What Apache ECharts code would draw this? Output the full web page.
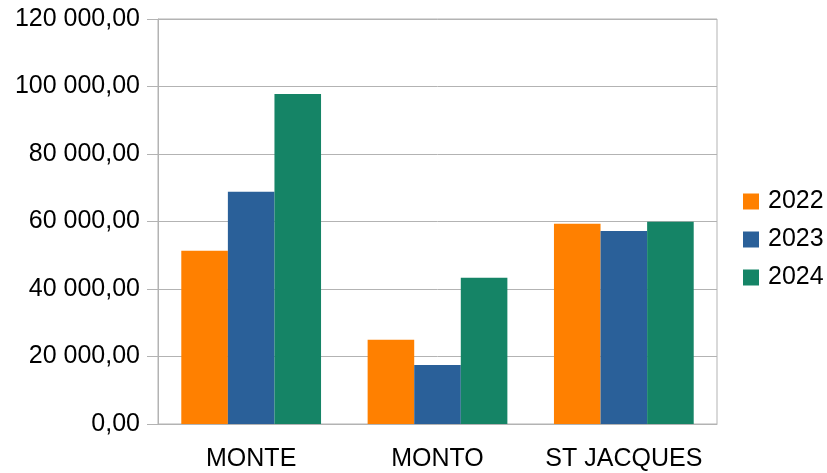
<!DOCTYPE html>
<html>
<head>
<meta charset="utf-8">
<script src="https://cdn.jsdelivr.net/npm/echarts@6/dist/echarts.min.js"></script>
<style>html,body{margin:0;padding:0;background:#fff;}#c{width:827px;height:473px;}</style>
</head>
<body>
<div id="c"></div>
<script>
const categories = ["MONTE", "MONTO", "ST JACQUES"];
const seriesNames = ["2022", "2023", "2024"];
const values2022 = [51300, 25000, 59300];
const values2023 = [68800, 17500, 57200];
const values2024 = [97800, 43300, 59900];
const colors = ["#ff8000", "#2a6099", "#158466"];

function fmt(v) {
  const s = Math.round(v).toString().replace(/\B(?=(\d{3})+(?!\d))/g, " ");
  return s + ",00";
}

const chart = echarts.init(document.getElementById("c"), null, {renderer: "canvas"});
const font = "Liberation Sans";
chart.setOption({
  animation: false,
  backgroundColor: "#ffffff",
  grid: {left: 158, right: 110, top: 19, bottom: 49, show: true, borderColor: "#b3b3b3", borderWidth: 1},
  legend: {
    orient: "vertical", left: 738, top: 184, padding: 5,
    itemWidth: 16, itemHeight: 16, itemGap: 13,
    icon: "rect",
    textStyle: {fontFamily: font, fontSize: 25, color: "#000", padding: [0, 0, 0, 4]},
    data: seriesNames
  },
  xAxis: {
    type: "category", data: categories,
    axisLine: {lineStyle: {color: "#b3b3b3"}},
    axisTick: {length: 11, lineStyle: {color: "#b3b3b3"}},
    axisLabel: {fontFamily: font, fontSize: 25, color: "#000", margin: 23, interval: 0}
  },
  yAxis: {
    type: "value", min: 0, max: 120000, interval: 20000,
    axisLine: {show: true, lineStyle: {color: "#b3b3b3"}},
    axisTick: {show: true, length: 11, lineStyle: {color: "#b3b3b3"}},
    splitLine: {lineStyle: {color: "#b3b3b3"}},
    axisLabel: {fontFamily: font, fontSize: 25, color: "#000", margin: 18, formatter: fmt}
  },
  series: [
    {name: seriesNames[0], type: "bar", data: values2022, itemStyle: {color: colors[0]}, barGap: "0%", barCategoryGap: "25%"},
    {name: seriesNames[1], type: "bar", data: values2023, itemStyle: {color: colors[1]}, barGap: "0%", barCategoryGap: "25%"},
    {name: seriesNames[2], type: "bar", data: values2024, itemStyle: {color: colors[2]}, barGap: "0%", barCategoryGap: "25%"}
  ]
});
</script>
</body>
</html>
